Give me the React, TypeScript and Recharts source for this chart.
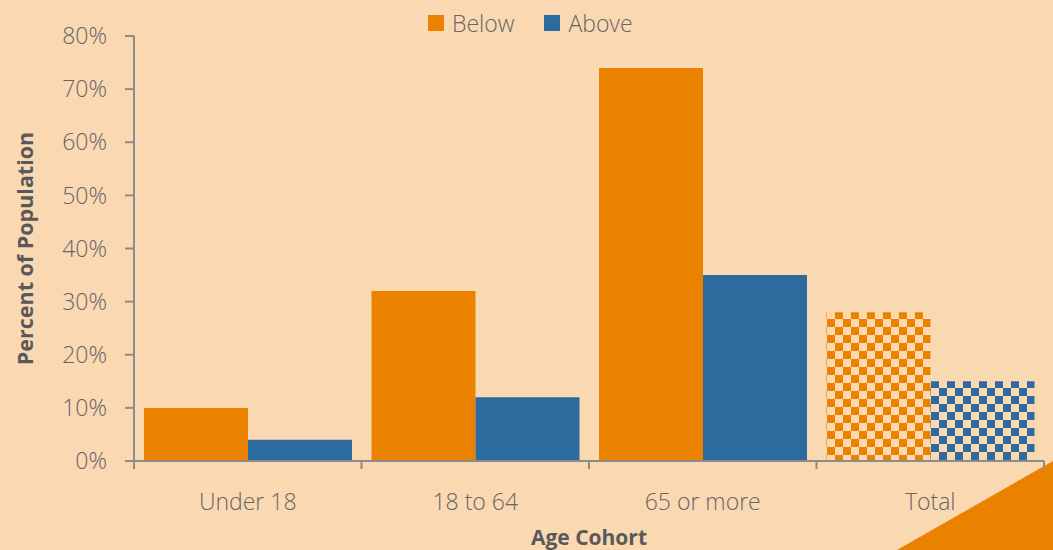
import { BarChart, Bar, XAxis, YAxis, Cell, Label } from 'recharts';

const CATEGORIES = ['Under 18', '18 to 64', '65 or more', 'Total'];
const BELOW = [10, 32, 74, 28];
const ABOVE = [4, 12, 35, 15];
const Y_TICKS = [0, 10, 20, 30, 40, 50, 60, 70, 80];
const SERIES = [
    { key: 'below', label: 'Below' },
    { key: 'above', label: 'Above' },
];

const BG = '#fad8b2';
const ORANGE = '#ea8200';
const BLUE = '#2d6b9e';
const AXIS = '#8c8c8c';
const TEXT = '#666666';
const TITLE = '#595959';
const FONT = '"Open Sans", "Segoe UI", sans-serif';

const W = 1053;
const H = 550;
const LEFT = 134;
const RIGHT = 9;
const BAND = (W - LEFT - RIGHT) / CATEGORIES.length;

const data = CATEGORIES.map((cohort, i) => ({ cohort, below: BELOW[i], above: ABOVE[i] }));

// x ticks: labels centred on the category, tick marks on category boundaries
function CohortTick(props: any) {
    const { x, y, payload, index } = props;
    const last = index === CATEGORIES.length - 1;
    return (
        <g>
            <line x1={x - BAND / 2} x2={x - BAND / 2} y1={y - 8} y2={y} stroke={AXIS} strokeWidth={2} />
            {last && <line x1={x + BAND / 2} x2={x + BAND / 2} y1={y - 8} y2={y} stroke={AXIS} strokeWidth={2} />}
            <text x={x} y={y + 41} textAnchor="middle" fill={TEXT} fontSize={23} fontWeight={300} fontFamily={FONT}>
                {payload.value}
            </text>
        </g>
    );
}

export default function App() {
    return (
        <div style={{ position: 'fixed', left: 0, top: 0, width: W, height: H, background: BG, overflow: 'hidden', fontFamily: FONT }}>
            {/* checker fills for the Total bars */}
            <svg width={0} height={0} style={{ position: 'absolute' }}>
                <defs>
                    <pattern id="checkOrange" patternUnits="userSpaceOnUse" width={16} height={16} x={3} y={7}>
                        <rect width={16} height={16} fill={BG} />
                        <rect width={8} height={8} fill={ORANGE} />
                        <rect x={8} y={8} width={8} height={8} fill={ORANGE} />
                    </pattern>
                    <pattern id="checkBlue" patternUnits="userSpaceOnUse" width={16} height={16} x={3} y={12}>
                        <rect width={16} height={16} fill={BG} />
                        <rect width={8} height={8} fill={BLUE} />
                        <rect x={8} y={8} width={8} height={8} fill={BLUE} />
                    </pattern>
                </defs>
            </svg>

            {/* corner accent */}
            <svg width={W} height={H} style={{ position: 'absolute', left: 0, top: 0 }}>
                <polygon points="897,550 1053,461 1053,550" fill={ORANGE} />
            </svg>

            <div style={{ position: 'absolute', left: 0, top: 0 }}>
                <BarChart width={W} height={H} data={data} margin={{ top: 36, right: RIGHT, bottom: 0, left: 0 }}
                    barCategoryGap={10} barGap={0}>
                    <XAxis dataKey="cohort" height={89} axisLine={{ stroke: AXIS, strokeWidth: 2 }} tickLine={false}
                        tickSize={8} tickMargin={0} tick={<CohortTick />} interval={0}>
                        <Label content={(p: any) => (
                            <text x={p.viewBox.x + p.viewBox.width / 2} y={p.viewBox.y + 84} textAnchor="middle"
                                fill={TITLE} fontSize={21} fontWeight={700} fontFamily={FONT}>Age Cohort</text>
                        )} />
                    </XAxis>
                    <YAxis width={LEFT} domain={[0, 80]} ticks={Y_TICKS} interval={0} tickFormatter={(v: number) => `${v}%`}
                        axisLine={{ stroke: AXIS, strokeWidth: 2 }} tickLine={{ stroke: AXIS, strokeWidth: 2 }}
                        tickSize={9} tickMargin={18}
                        tick={{ fill: TEXT, fontSize: 23, fontWeight: 300, fontFamily: FONT }}>
                        <Label content={(p: any) => (
                            <text x={24} y={p.viewBox.y + p.viewBox.height / 2} transform={`rotate(-90 24 ${p.viewBox.y + p.viewBox.height / 2})`}
                                textAnchor="middle" dominantBaseline="central" fill={TITLE} fontSize={21.5} fontWeight={700} fontFamily={FONT}>
                                Percent of Population
                            </text>
                        )} />
                    </YAxis>
                    <Bar dataKey="below" isAnimationActive={false}>
                        {data.map((d) => (
                            <Cell key={d.cohort} fill={d.cohort === 'Total' ? 'url(#checkOrange)' : ORANGE} />
                        ))}
                    </Bar>
                    <Bar dataKey="above" isAnimationActive={false}>
                        {data.map((d) => (
                            <Cell key={d.cohort} fill={d.cohort === 'Total' ? 'url(#checkBlue)' : BLUE} />
                        ))}
                    </Bar>
                </BarChart>
            </div>

            {/* legend */}
            <div style={{ position: 'absolute', left: 428, top: 7, display: 'flex', alignItems: 'center', fontSize: 23, fontWeight: 300, color: TEXT }}>
                {SERIES.map((s, i) => (
                    <div key={s.key} style={{ display: 'flex', alignItems: 'center', marginRight: 30 }}>
                        <span style={{ width: 16, height: 16, background: i === 0 ? ORANGE : BLUE, marginRight: 8, display: 'inline-block' }} />
                        <span>{s.label}</span>
                    </div>
                ))}
            </div>
        </div>
    );
}
